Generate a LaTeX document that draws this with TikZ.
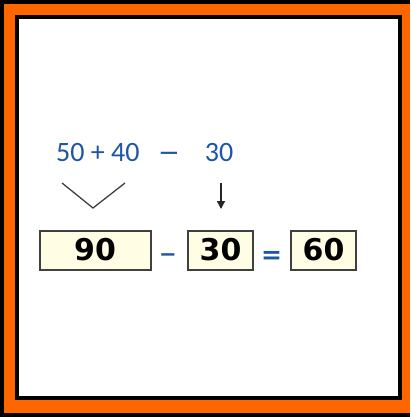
\documentclass[tikz,border=0pt]{standalone}
\usepackage{fontspec}
\usepackage{xcolor}
\usetikzlibrary{positioning,arrows.meta}
\setmainfont{Carlito}
\newfontfamily\boxfont{DejaVu Sans}
\definecolor{frameorange}{RGB}{255,102,0}
\definecolor{sumblue}{RGB}{30,85,165}
\definecolor{boxfill}{RGB}{255,253,228}
\tikzset{
  topnum/.style={text=sumblue, inner sep=0pt, font=\fontsize{28}{28}\selectfont},
  numbox/.style={draw=black!75, line width=2pt, fill=boxfill, minimum height=39pt, inner sep=0pt,
    font=\boxfont\bfseries\fontsize{30}{30}\selectfont},
  opsign/.style={text=sumblue, inner sep=0pt, font=\boxfont\bfseries\fontsize{25}{25}\selectfont}
}

\begin{document}
\begin{tikzpicture}[x=1pt,y=-1pt]
        % frame
        \fill[black] (0,0) rectangle (410,417);
        \fill[frameorange] (4,4) rectangle (410,413);
        \fill[black] (15,15) rectangle (402,400);
        \fill[white] (19,19) rectangle (398,396);
        \useasboundingbox (0,0) rectangle (410,417);

        % top line
        \node[topnum, anchor=base west] (sum) at (56,161) {50 + 40};
        \node[topnum, anchor=base, font=\boxfont\fontsize{26}{26}\selectfont] (minus) at (169,161) {−};
        \node[topnum, anchor=base] (sub) at (219,161) {30};

        % boxes
        \node[numbox, minimum width=111pt] (res) at (95,250) {90\hspace{14pt}};
        \node[opsign, anchor=base, font=\boxfont\bfseries\fontsize{21}{21}\selectfont] (op1) at (168,261) {−};
        \node[numbox, minimum width=65pt] (val) at (220.5,250) {30};
        \node[opsign, anchor=base] (op2) at (271.5,263) {=};
        \node[numbox, minimum width=65pt] (ans) at (323.5,250) {60\hspace{5pt}};

        % bracket and arrow
        \coordinate (vl) at (62,183);
        \coordinate (vm) at (93,208);
        \coordinate (vr) at (125,183);
        \draw[black!75, line width=1.3pt] (vl) -- (vm) -- (vr);
        \coordinate (atop) at (221,183);
        \coordinate (abot) at (221,209);
        \draw[-{Triangle[width=8pt,length=8pt]}, black!85, line width=1.4pt] (atop) -- (abot);
    \end{tikzpicture}
\end{document}
